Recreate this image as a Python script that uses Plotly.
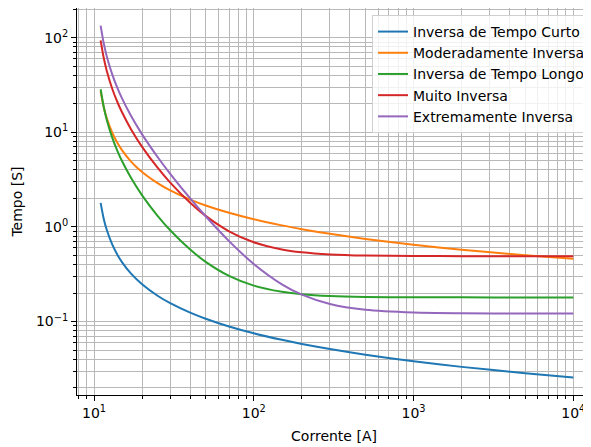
import plotly.graph_objects as go

# Current [A]
corrente = [11, 11.5, 12, 13, 14, 15, 17, 20, 25, 30, 40, 50, 70, 100, 150, 200,
            300, 500, 1000, 2000, 5000, 10000]

# Time [s] for each curve
curto = [1.795, 1.224, 0.939, 0.653, 0.509, 0.423, 0.323, 0.248, 0.1875, 0.1566,
         0.1243, 0.1072, 0.0888, 0.0752, 0.0641, 0.0580, 0.0512, 0.0446, 0.0381,
         0.0332, 0.0285, 0.0257]
moderada = [27.1, 18.51, 14.21, 9.90, 7.74, 6.44, 4.94, 3.80, 2.90, 2.43, 1.946,
            1.688, 1.412, 1.207, 1.039, 0.948, 0.846, 0.747, 0.648, 0.575, 0.503,
            0.462]
longo = [28.51, 18.63, 13.70, 8.80, 6.38, 4.94, 3.33, 2.16, 1.313, 0.924, 0.577,
         0.428, 0.304, 0.240, 0.2066, 0.1949, 0.1866, 0.1824, 0.1806, 0.1802,
         0.1800, 0.1800]
muito = [93.87, 61.30, 45.06, 28.91, 20.92, 16.18, 10.87, 7.03, 4.23, 2.94, 1.80,
         1.308, 0.900, 0.689, 0.5785, 0.540, 0.5128, 0.4988, 0.4930, 0.4915,
         0.4911, 0.4910]
extrema = [134.4, 87.56, 64.21, 40.99, 29.50, 22.68, 15.04, 9.52, 5.49, 3.647,
           2.002, 1.297, 0.709, 0.4065, 0.2476, 0.1924, 0.1531, 0.1330, 0.1245,
           0.1224, 0.1218, 0.1217]

nomes = ["Inversa de Tempo Curto", "Moderadamente Inversa", "Inversa de Tempo Longo",
         "Muito Inversa", "Extremamente Inversa"]
cores = ["#1f77b4", "#ff7f0e", "#2ca02c", "#d62728", "#9467bd"]

x_tickvals = [10, 100, 1000, 10000]
x_ticktext = ["10<sup>1</sup>", "10<sup>2</sup>", "10<sup>3</sup>", "10<sup>4</sup>"]
y_tickvals = [0.1, 1, 10, 100]
y_ticktext = ["10<sup>\u22121</sup>", "10<sup>0</sup>", "10<sup>1</sup>", "10<sup>2</sup>"]

fig = go.Figure()
for nome, cor, ys in zip(nomes, cores, [curto, moderada, longo, muito, extrema]):
    fig.add_trace(go.Scatter(x=corrente, y=ys, mode="lines", name=nome,
                             line=dict(color=cor, width=2, shape="spline", smoothing=0.8)))

grid = "#b8b8b8"
font = dict(family="DejaVu Sans", size=14, color="#000000")
fig.update_layout(
    width=583, height=439,
    margin=dict(l=69, r=0, t=0, b=52),
    paper_bgcolor="white", plot_bgcolor="white",
    font=font,
    showlegend=True,
    legend=dict(x=1.0, y=0.982, xanchor="right", yanchor="top",
                bgcolor="rgba(255,255,255,0.8)", bordercolor="#d0d0d0", borderwidth=1,
                font=dict(family="DejaVu Sans", size=14, color="#000000")),
    xaxis=dict(type="log", range=[0.8935, 4.111],
               tickmode="array", tickvals=x_tickvals, ticktext=x_ticktext,
               ticks="outside", ticklen=5, tickwidth=1, tickcolor="#000000",
               showline=True, linecolor="#000000", linewidth=1, mirror=True,
               showgrid=True, gridcolor=grid, gridwidth=1,
               minor=dict(dtick="D1", showgrid=True, gridcolor=grid, gridwidth=1,
                          ticks="outside", ticklen=3, tickcolor="#000000"),
               title=dict(text="Corrente [A]", font=font, standoff=11)),
    yaxis=dict(type="log", range=[-1.776, 2.314],
               tickmode="array", tickvals=y_tickvals, ticktext=y_ticktext,
               ticks="outside", ticklen=5, tickwidth=1, tickcolor="#000000",
               showline=True, linecolor="#000000", linewidth=1, mirror=False,
               showgrid=True, gridcolor=grid, gridwidth=1,
               minor=dict(dtick="D1", showgrid=True, gridcolor=grid, gridwidth=1,
                          ticks="outside", ticklen=3, tickcolor="#000000"),
               title=dict(text="Tempo [S]", font=font, standoff=10)),
)

fig.write_html("out.html")
